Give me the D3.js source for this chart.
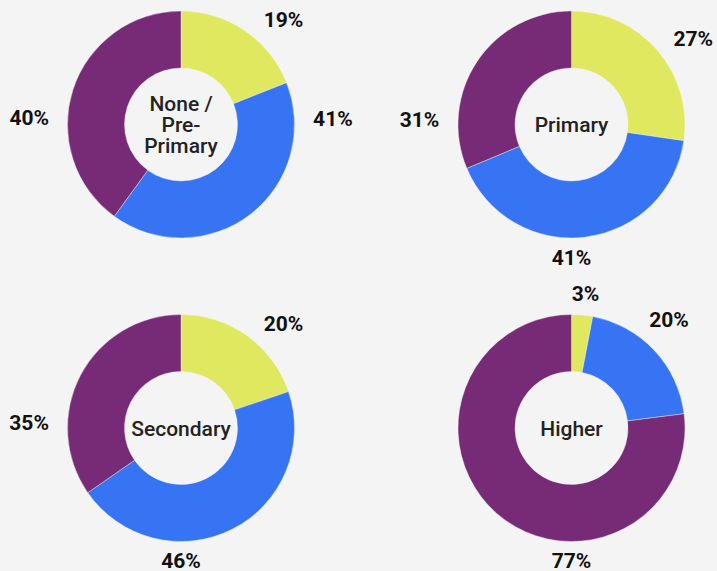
<!DOCTYPE html>
<html>
<head>
<meta charset="utf-8">
<script src="https://cdn.jsdelivr.net/npm/d3@7"></script>
<style>
  html, body { margin: 0; padding: 0; background: #f4f4f4; }
  svg { display: block; }
</style>
</head>
<body>
<svg id="chart" width="717" height="571"></svg>
<script>
// Education levels, one donut each
const categories = ["None / Pre-Primary", "Primary", "Secondary", "Higher"];
const centerLines = [["None /", "Pre-", "Primary"], ["Primary"], ["Secondary"], ["Higher"]];

// Share of each group (percent) per education level
const groupA = [19, 27, 20, 3];
const groupB = [41, 41, 46, 20];
const groupC = [40, 31, 35, 77];
const groups = ["Group A", "Group B", "Group C"];

// Where each value label sits around its ring (degrees clockwise from 12 o'clock)
const labelAngles = [[44.5, 88, 272.6], [55, 180, 271.7], [44.5, 180, 271.9], [6, 42, 180]];

const colors = d3.scaleOrdinal().domain(groups).range(["#dfe85f", "#3674f3", "#772a76"]);

const svg = d3.select("#chart");
const outerR = 113.5, innerR = 56.5;
const colX = d3.scalePoint().domain([0, 1]).range([181, 571.5]);
const rowY = d3.scalePoint().domain([0, 1]).range([124.5, 428]);

const pie = d3.pie().sort(null).value(d => d.value);
const arc = d3.arc().innerRadius(innerR).outerRadius(outerR);

categories.forEach((cat, i) => {
  const data = groups.map((g, k) => ({ group: g, value: [groupA, groupB, groupC][k][i] }));
  const g = svg.append("g")
    .attr("transform", `translate(${colX(i % 2)},${rowY(Math.floor(i / 2))})`);

  g.selectAll("path.slice")
    .data(pie(data))
    .join("path")
    .attr("class", "slice")
    .attr("d", arc)
    .attr("fill", d => colors(d.data.group))
    .attr("stroke", "#f4f4f4")
    .attr("stroke-width", 0.4);

  // value labels outside the ring
  g.selectAll("text.val")
    .data(data)
    .join("text")
    .attr("class", "val")
    .attr("text-anchor", "middle")
    .attr("font-family", "Roboto, 'Noto Sans', sans-serif")
    .attr("font-weight", 700)
    .attr("font-size", 21)
    .attr("fill", "#111")
    .each(function (d, k) {
      const a = labelAngles[i][k] * Math.PI / 180;
      const r = 133 + 19 * Math.abs(Math.sin(a));
      d3.select(this)
        .attr("x", r * Math.sin(a))
        .attr("y", -r * Math.cos(a) + 7);
    })
    .text(d => `${d.value}%`);

  // category name in the hole
  const lines = centerLines[i];
  const lh = 21;
  g.append("text")
    .attr("text-anchor", "middle")
    .attr("font-family", "Roboto, 'Noto Sans', sans-serif")
    .attr("font-weight", 500)
    .attr("font-size", 21)
    .attr("fill", "#222")
    .selectAll("tspan")
    .data(lines)
    .join("tspan")
    .attr("x", 0)
    .attr("y", (d, j) => 7.5 + (j - (lines.length - 1) / 2) * lh)
    .text(d => d);
});
</script>
</body>
</html>
